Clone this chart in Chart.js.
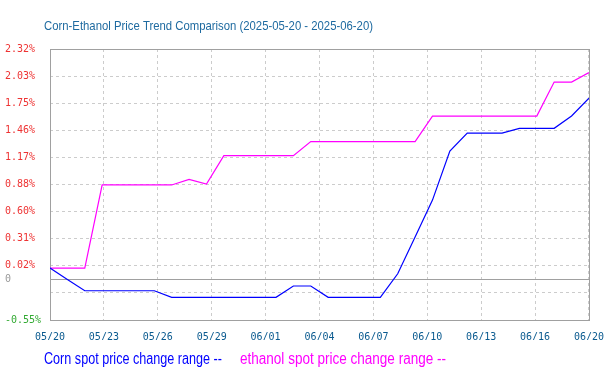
<!DOCTYPE html>
<html><head><meta charset="utf-8">
<script src="https://cdn.jsdelivr.net/npm/chart.js@4.4.1/dist/chart.umd.min.js"></script>
<style>html,body{margin:0;padding:0;background:#fff}</style>
</head><body>
<canvas id="c" width="615" height="381"></canvas>
<script>
// ---- data ----
const TITLE = 'Corn-Ethanol Price Trend Comparison (2025-05-20 - 2025-06-20)';
const DATES = ['05/20','05/21','05/22','05/23','05/24','05/25','05/26','05/27','05/28','05/29','05/30','05/31',
  '06/01','06/02','06/03','06/04','06/05','06/06','06/07','06/08','06/09','06/10','06/11','06/12','06/13',
  '06/14','06/15','06/16','06/17','06/18','06/19','06/20'];
const CORN = [0, -0.12, -0.24, -0.24, -0.24, -0.24, -0.24, -0.31, -0.31, -0.31, -0.31, -0.31,
  -0.31, -0.31, -0.19, -0.19, -0.31, -0.31, -0.31, -0.31, -0.06, 0.33, 0.72, 1.24, 1.43,
  1.43, 1.43, 1.48, 1.48, 1.48, 1.61, 1.80];
const ETHANOL = [0, 0, 0, 0.88, 0.88, 0.88, 0.88, 0.88, 0.94, 0.89, 1.19, 1.19,
  1.19, 1.19, 1.19, 1.34, 1.34, 1.34, 1.34, 1.34, 1.34, 1.34, 1.61, 1.61, 1.61,
  1.61, 1.61, 1.61, 1.61, 1.97, 1.97, 2.07];
const SERIES_NAMES = ['Corn spot price change range --', 'ethanol spot price change range --'];
const X_TICK_LABELS = ['05/20','05/23','05/26','05/29','06/01','06/04','06/07','06/10','06/13','06/16','06/20'];
const Y_MIN = -0.55, Y_MAX = 2.32;
const Y_TICK_LABELS = ['-0.55%','','0.02%','0.31%','0.60%','0.88%','1.17%','1.46%','1.75%','2.03%','2.32%'];
const ZERO_LINE = -0.116, ZERO_LABEL = '0';

// ---- styles ----
const BLUE = '#0000ff', MAGENTA = '#ff00ff';
const GRID = '#cccccc', FRAME = '#a0a0a0';
const TICK_FONT = {family: '"DejaVu Sans Mono", monospace', size: 10};

function fitText(ctx, text, x, y, width, font, color) {
  ctx.save();
  ctx.font = font; ctx.fillStyle = color; ctx.textBaseline = 'alphabetic'; ctx.textAlign = 'left';
  const w = ctx.measureText(text).width;
  ctx.translate(x, y); ctx.scale(width / w, 1);
  ctx.fillText(text, 0, 0);
  ctx.restore();
}

const decor = {
  id: 'decor',
  beforeDatasetsDraw(chart) {
    const {ctx, chartArea: a} = chart;
    ctx.save();
    ctx.strokeStyle = FRAME; ctx.lineWidth = 1;
    ctx.strokeRect(Math.round(a.left) + 0.5, Math.round(a.top) + 0.5,
      Math.round(a.right) - Math.round(a.left), Math.round(a.bottom) - Math.round(a.top));
    ctx.restore();
  },
  afterDraw(chart) {
    const ctx = chart.ctx;
    fitText(ctx, TITLE, 44, 30, 329, '13.5px "Liberation Sans", Arial, sans-serif', '#1e6aa0');
    fitText(ctx, SERIES_NAMES[0], 44, 364, 178, '16px "Liberation Sans", Arial, sans-serif', BLUE);
    fitText(ctx, SERIES_NAMES[1], 240, 364, 206, '16px "Liberation Sans", Arial, sans-serif', MAGENTA);
  }
};

new Chart(document.getElementById('c'), {
  type: 'line',
  data: {
    datasets: [
      {label: SERIES_NAMES[0], data: CORN.map((v, i) => ({x: i, y: v})), borderColor: BLUE, borderWidth: 1.2, pointRadius: 0, tension: 0, fill: false},
      {label: SERIES_NAMES[1], data: ETHANOL.map((v, i) => ({x: i, y: v})), borderColor: MAGENTA, borderWidth: 1.2, pointRadius: 0, tension: 0, fill: false}
    ]
  },
  options: {
    responsive: false, animation: false, devicePixelRatio: 1,
    layout: {padding: {left: 5, top: 49, right: 24, bottom: 41}},
    plugins: {legend: {display: false}, title: {display: false}, tooltip: {enabled: false}},
    scales: {
      x: {
        type: 'linear', min: 0, max: DATES.length - 1,
        afterBuildTicks(scale) {
          const n = X_TICK_LABELS.length;
          scale.ticks = X_TICK_LABELS.map((t, i) => ({value: scale.min + i * (scale.max - scale.min) / (n - 1), txt: t}));
        },
        afterFit(scale) { scale.height = 20; },
        ticks: {autoSkip: false, maxRotation: 0, minRotation: 0, padding: 11, color: '#0a5a8f', font: TICK_FONT,
          callback: (v, i, ticks) => ticks[i].txt},
        grid: {color: GRID, drawTicks: false, lineWidth: 1},
        border: {display: false, dash: [3, 3]}
      },
      y: {
        type: 'linear', min: Y_MIN, max: Y_MAX,
        afterBuildTicks(scale) {
          const n = Y_TICK_LABELS.length;
          const t = Y_TICK_LABELS.map((l, i) => ({value: Y_MIN + i * (Y_MAX - Y_MIN) / (n - 1), txt: l}));
          t.push({value: ZERO_LINE, txt: ZERO_LABEL});
          t.sort((a, b) => a.value - b.value);
          scale.ticks = t;
        },
        afterFit(scale) { scale.width = 45; },
        ticks: {autoSkip: false, crossAlign: 'far', font: TICK_FONT,
          color: (c) => c.tick.value === ZERO_LINE ? '#999999' : (c.tick.value < 0 ? '#33aa33' : '#ee3333'),
          callback: (v, i, ticks) => ticks[i].txt},
        grid: {drawTicks: false, lineWidth: 1,
          color: (c) => (c.tick && c.tick.value === ZERO_LINE) ? FRAME : GRID},
        border: {display: false, dash: (c) => (c.tick && c.tick.value === ZERO_LINE) ? [] : [3, 3]}
      }
    }
  },
  plugins: [decor]
});
</script>
</body></html>
